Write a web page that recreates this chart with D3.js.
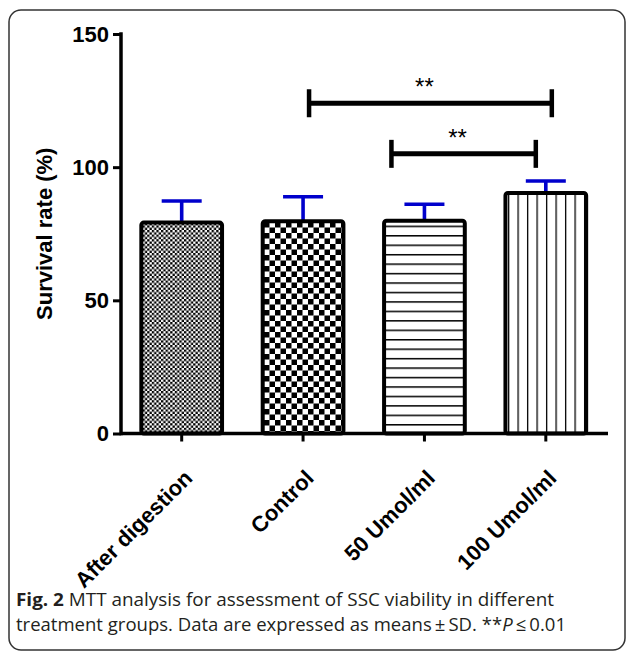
<!DOCTYPE html>
<html>
<head>
<meta charset="utf-8">
<script src="https://cdn.jsdelivr.net/npm/d3@7"></script>
<style>
  html, body { margin: 0; padding: 0; background: #fff; }
  svg { display: block; }
</style>
</head>
<body>
<svg id="chart" width="627" height="651"></svg>
<script>
// ---- data ----
const categories = ["After digestion", "Control", "50 Umol/ml", "100 Umol/ml"];
const means = [79.2, 79.7, 79.9, 90.3];
const sds = [8.1, 9.2, 6.2, 4.5];
const yTicks = [0, 50, 100, 150];
const yTitle = "Survival rate (%)";
const sigFrom = [1, 2];
const sigTo = [3, 3];
const sigLevel = [124, 105];
const sigLabel = ["**", "**"];
const captionBold = "Fig. 2";
const captionLine1 = " MTT analysis for assessment of SSC viability in different";
const captionLine2 = "treatment groups. Data are expressed as means\u2009\u00b1\u2009SD. **";
const captionP = "P";
const captionEnd = "\u2009\u2264\u20090.01";

// ---- layout ----
const svg = d3.select("#chart");
const mLeft = 121, mRight = 606.5, mTop = 34, mBottom = 433.5;

svg.append("rect")
  .attr("x", 9).attr("y", 10).attr("width", 616).attr("height", 640)
  .attr("rx", 12).attr("ry", 12)
  .attr("fill", "none").attr("stroke", "#333").attr("stroke-width", 1.5);

const x = d3.scaleBand().domain(categories).range([mLeft, mRight]).paddingInner(0.335).paddingOuter(0.1675);
const y = d3.scaleLinear().domain([0, 150]).range([mBottom, mTop]);

// patterns
const defs = svg.append("defs");
const p1 = defs.append("pattern").attr("id", "pat0").attr("patternUnits", "userSpaceOnUse")
  .attr("width", 4.6).attr("height", 4.6);
p1.append("rect").attr("width", 4.6).attr("height", 4.6).attr("fill", "#fff");
p1.append("rect").attr("width", 2.3).attr("height", 2.3).attr("fill", "#000");
p1.append("rect").attr("x", 2.3).attr("y", 2.3).attr("width", 2.3).attr("height", 2.3).attr("fill", "#000");

const p2 = defs.append("pattern").attr("id", "pat1").attr("patternUnits", "userSpaceOnUse")
  .attr("width", 11).attr("height", 11).attr("x", 0).attr("y", 2);
p2.append("rect").attr("width", 11).attr("height", 11).attr("fill", "#fff");
p2.append("rect").attr("width", 5.5).attr("height", 5.5).attr("fill", "#000");
p2.append("rect").attr("x", 5.5).attr("y", 5.5).attr("width", 5.5).attr("height", 5.5).attr("fill", "#000");

const p3 = defs.append("pattern").attr("id", "pat2").attr("patternUnits", "userSpaceOnUse")
  .attr("width", 10).attr("height", 9.45).attr("y", mBottom);
p3.append("rect").attr("width", 10).attr("height", 9.45).attr("fill", "#fff");
p3.append("rect").attr("y", 0).attr("width", 10).attr("height", 1.5).attr("fill", "#000");

const p4 = defs.append("pattern").attr("id", "pat3").attr("patternUnits", "userSpaceOnUse")
  .attr("width", 9.5).attr("height", 10).attr("x", x(categories[3]) + 2.5);
p4.append("rect").attr("width", 9.5).attr("height", 10).attr("fill", "#fff");
p4.append("rect").attr("x", 0).attr("width", 1.3).attr("height", 10).attr("fill", "#000");

// error bars (upper only) drawn before bars
const eb = svg.append("g");
categories.forEach((c, i) => {
  const cx = x(c) + x.bandwidth() / 2;
  eb.append("line").attr("x1", cx).attr("x2", cx).attr("y1", y(means[i])).attr("y2", y(means[i] + sds[i]))
    .attr("stroke", "#0000cc").attr("stroke-width", 3.6);
  eb.append("line").attr("x1", cx - 20).attr("x2", cx + 20).attr("y1", y(means[i] + sds[i])).attr("y2", y(means[i] + sds[i]))
    .attr("stroke", "#0000cc").attr("stroke-width", 3.6);
});

// bars
svg.append("g").selectAll("rect").data(categories).join("rect")
  .attr("x", d => x(d))
  .attr("y", (d, i) => y(means[i]))
  .attr("width", x.bandwidth())
  .attr("height", (d, i) => mBottom - y(means[i]))
  .attr("rx", 2.5)
  .attr("fill", (d, i) => `url(#pat${i})`)
  .attr("stroke", "#000").attr("stroke-width", 4);

// axes
const yAxis = d3.axisLeft(y).tickValues(yTicks).tickSize(8).tickPadding(4);
const gy = svg.append("g").attr("transform", `translate(${mLeft},0)`).call(yAxis);
gy.select(".domain").attr("d", `M0,${mTop}V${mBottom}`).attr("stroke-width", 3.5).attr("stroke-linecap", "square");
gy.selectAll(".tick line").attr("stroke-width", 3);
gy.selectAll(".tick text").attr("font-family", "Liberation Sans, Arial, sans-serif")
  .attr("font-weight", "bold").attr("font-size", 22).attr("fill", "#000");

const xAxis = d3.axisBottom(x).tickSize(8).tickFormat("");
const gx = svg.append("g").attr("transform", `translate(0,${mBottom})`).call(xAxis);
gx.select(".domain").attr("d", `M${mLeft},0H${mRight + 1.5}`).attr("stroke-width", 3.5);
gx.selectAll(".tick line").attr("stroke-width", 3);

// x labels rotated
svg.append("g").selectAll("text").data(categories).join("text")
  .attr("transform", d => `translate(${x(d) + x.bandwidth() / 2 + 12},${mBottom + 46}) rotate(-45)`)
  .attr("text-anchor", "end")
  .attr("font-family", "Liberation Sans, Arial, sans-serif")
  .attr("font-weight", "bold").attr("font-size", 22)
  .text(d => d);

// y title
svg.append("text")
  .attr("transform", `translate(52,${(mTop + mBottom) / 2}) rotate(-90)`)
  .attr("text-anchor", "middle")
  .attr("font-family", "Liberation Sans, Arial, sans-serif")
  .attr("font-weight", "bold").attr("font-size", 22)
  .text(yTitle);

// significance brackets
const sigOffsetFrom = [6, -33];
const sigOffsetTo = [6, -10];
sigFrom.forEach((f, k) => {
  const x1 = x(categories[f]) + x.bandwidth() / 2 + sigOffsetFrom[k];
  const x2 = x(categories[sigTo[k]]) + x.bandwidth() / 2 + sigOffsetTo[k];
  const yy = y(sigLevel[k]);
  const g = svg.append("g").attr("stroke", "#000");
  g.append("line").attr("x1", x1).attr("x2", x2).attr("y1", yy).attr("y2", yy).attr("stroke-width", 5);
  g.append("line").attr("x1", x1).attr("x2", x1).attr("y1", yy - 14).attr("y2", yy + 14).attr("stroke-width", 4.5);
  g.append("line").attr("x1", x2).attr("x2", x2).attr("y1", yy - 14).attr("y2", yy + 14).attr("stroke-width", 4.5);
  svg.append("text").attr("x", (x1 + x2) / 2 - 6).attr("y", yy - 8)
    .attr("text-anchor", "middle")
    .attr("font-family", "Liberation Sans, Arial, sans-serif")
    .attr("font-size", 24)
    .text(sigLabel[k]);
});

// caption
const cap = svg.append("g").attr("font-family", "Open Sans, Noto Sans, sans-serif").attr("font-size", 18.5).attr("fill", "#231f20");
const l1 = cap.append("text").attr("x", 16).attr("y", 606)
  .attr("textLength", 538).attr("lengthAdjust", "spacingAndGlyphs");
l1.append("tspan").attr("font-weight", "bold").text(captionBold);
l1.append("tspan").text(captionLine1);
const l2 = cap.append("text").attr("x", 16).attr("y", 631)
  .attr("textLength", 550).attr("lengthAdjust", "spacingAndGlyphs");
l2.append("tspan").text(captionLine2);
l2.append("tspan").attr("font-style", "italic").text(captionP);
l2.append("tspan").text(captionEnd);
</script>
</body>
</html>
